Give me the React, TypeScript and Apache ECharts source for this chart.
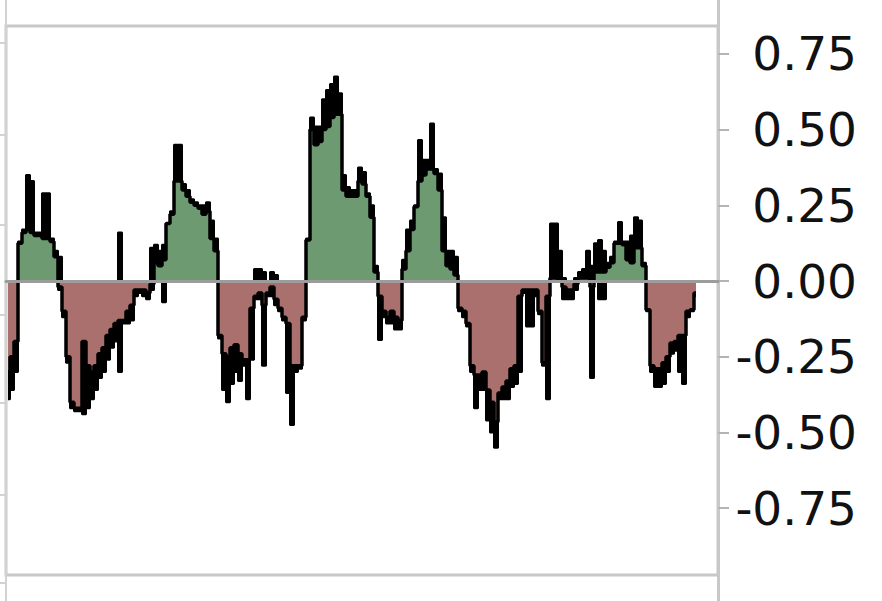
import React, { useEffect, useRef } from "react";
import * as echarts from "echarts";

// Period index labels (one per 4-px band in the original chart)
const periods: string[] = Array.from({ length: 178 }, (_, i) => `P${i + 1}`);

// Body value of the oscillator (coloured fill edge)
const core: number[] = [
  -0.30, -0.25, -0.20, 0.125, 0.16, 0.17, 0.16, 0.15, 0.15, 0.14,
  0.14, 0.13, 0.08, -0.02, -0.10, -0.25, -0.40, -0.42, -0.42, -0.20,
  -0.28, -0.30, -0.28, -0.24, -0.22, -0.18, -0.16, -0.14, -0.13, -0.13,
  -0.10, -0.08, -0.03, -0.03, -0.03, -0.04, -0.01, 0.06, 0.05, 0.07,
  0.19, 0.22, 0.33, 0.33, 0.30, 0.28, 0.26, 0.25, 0.24, 0.22,
  0.23, 0.14, 0.10, -0.18, -0.24, -0.25, -0.22, -0.21, -0.24, -0.26,
  -0.26, -0.09, -0.05, -0.04, -0.08, -0.04, -0.02, -0.06, -0.09, -0.12,
  -0.14, -0.28, -0.28, -0.28, -0.12, 0.135, 0.50, 0.45, 0.46, 0.50,
  0.51, 0.54, 0.55, 0.55, 0.30, 0.28, 0.28, 0.28, 0.33, 0.32,
  0.28, 0.21, 0.03, -0.05, -0.10, -0.12, -0.10, -0.12, -0.13, 0.04,
  0.10, 0.17, 0.245, 0.33, 0.35, 0.37, 0.37, 0.355, 0.30, 0.10,
  0.05, 0.04, 0.02, -0.09, -0.10, -0.14, -0.28, -0.31, -0.31, -0.30,
  -0.36, -0.40, -0.465, -0.37, -0.35, -0.33, -0.29, -0.28, -0.05, -0.03,
  -0.03, -0.03, -0.03, -0.10, -0.27, -0.05, 0.01, 0.01, 0.0, -0.02,
  -0.03, -0.03, -0.01, 0.01, 0.01, 0.01, -0.02, 0.03, 0.03, 0.03,
  0.045, 0.06, 0.125, 0.125, 0.12, 0.07, 0.06, 0.11, 0.11, 0.05,
  -0.095, -0.28, -0.29, -0.29, -0.27, -0.25, -0.205, -0.20, -0.18, -0.18,
  -0.10, -0.095, -0.04,
];

// Highest excursion within each period (black wick above zero)
const upper: number[] = [
  0, 0, 0, 0.13, 0.17, 0.35, 0.33, 0.16, 0.16, 0.29,
  0.29, 0.14, 0.10, 0.08, 0, 0, 0, 0, 0, 0,
  0, 0, 0, 0, 0, 0, 0, 0, 0.16, 0,
  0, 0, 0, 0, 0, 0, 0.11, 0.12, 0.10, 0.12,
  0.19, 0.23, 0.45, 0.45, 0.32, 0.30, 0.27, 0.26, 0.25, 0.25,
  0.26, 0.20, 0.14, 0, 0, 0, 0, 0, 0, 0,
  0, 0, 0.04, 0.04, 0.03, 0, 0.03, 0.02, 0, 0,
  0, 0, 0, 0, 0, 0.14, 0.54, 0.51, 0.51, 0.60,
  0.63, 0.65, 0.675, 0.62, 0.35, 0.31, 0.30, 0.30, 0.375, 0.36,
  0.29, 0.25, 0.05, 0, 0, 0, 0, 0, 0, 0.07,
  0.17, 0.20, 0.25, 0.465, 0.40, 0.40, 0.52, 0.37, 0.355, 0.21,
  0.10, 0.10, 0.08, 0, 0, 0, 0, 0, 0, 0,
  0, 0, 0, 0, 0, 0, 0, 0, 0, 0,
  0, 0, 0, 0, 0, 0, 0.19, 0.19, 0.10, 0.01,
  0, 0, 0.01, 0.03, 0.04, 0.10, 0.05, 0.125, 0.135, 0.10,
  0.06, 0.08, 0.13, 0.195, 0.13, 0.13, 0.15, 0.21, 0.20, 0.06,
  0, 0, 0, 0, 0, 0, 0, 0, 0, 0,
  0, 0, 0,
];

// Lowest excursion within each period (black wick below zero)
const lower: number[] = [
  -0.39, -0.36, -0.30, 0, 0, 0, 0, 0, 0, 0,
  0, 0, 0, -0.03, -0.12, -0.27, -0.42, -0.43, -0.43, -0.44,
  -0.42, -0.39, -0.36, -0.32, -0.30, -0.26, -0.22, -0.20, -0.30, -0.14,
  -0.14, -0.13, -0.05, -0.04, -0.05, -0.06, -0.03, 0, 0, -0.07,
  0, 0, 0, 0, 0, 0, 0, 0, 0, 0,
  0, 0, 0, -0.19, -0.36, -0.40, -0.34, -0.30, -0.33, -0.28,
  -0.39, -0.26, -0.06, -0.06, -0.28, -0.05, -0.05, -0.08, -0.10, -0.13,
  -0.37, -0.475, -0.30, -0.29, -0.13, 0, 0, 0, 0, 0,
  0, 0, 0, 0, 0, 0, 0, 0, 0, 0,
  0, 0, 0, -0.195, -0.12, -0.14, -0.14, -0.16, -0.16, 0,
  0, 0, 0, 0, 0, 0, 0, 0, 0, 0,
  0, 0, 0, -0.10, -0.12, -0.15, -0.30, -0.42, -0.36, -0.36,
  -0.46, -0.50, -0.55, -0.39, -0.39, -0.39, -0.35, -0.34, -0.30, -0.04,
  -0.15, -0.15, -0.05, -0.11, -0.28, -0.39, 0, 0, 0, -0.06,
  -0.06, -0.06, -0.03, 0, 0, 0, -0.32, 0, -0.06, -0.06,
  0, 0, 0, 0, 0, 0, 0, 0, 0, 0,
  -0.10, -0.30, -0.35, -0.35, -0.34, -0.30, -0.24, -0.23, -0.30, -0.34,
  -0.12, -0.10, -0.05,
];

const tickValues: number[] = [-0.75, -0.5, -0.25, 0, 0.25, 0.5, 0.75];
const leftTickValues: number[] = [18, 106, 198, 286, 376, 466, 558];

const GREEN = "#6e9a72";
const RED = "#a9706e";

export default function App() {
  const ref = useRef<HTMLDivElement>(null);

  useEffect(() => {
    if (!ref.current) return;
    const chart = echarts.init(ref.current, undefined, { renderer: "svg" });
    const positive = core.map((v) => (v > 0 ? v : 0));
    const negative = core.map((v) => (v < 0 ? v : 0));
    const base = {
      type: "line",
      step: "middle",
      symbol: "none",
      xAxisIndex: 0,
      yAxisIndex: 0,
      silent: true,
    };
    chart.setOption({
      animation: false,
      backgroundColor: "#ffffff",
      grid: [
        {
          left: 6,
          right: 164,
          top: 26,
          bottom: 26,
          show: true,
          borderColor: "#c8c8c8",
          borderWidth: 3,
          backgroundColor: "transparent",
        },
        { left: 6, right: 164, top: 0, bottom: 0 },
      ],
      xAxis: [
        {
          type: "category",
          gridIndex: 0,
          data: periods,
          boundaryGap: true,
          z: 10,
          axisLine: { show: true, onZero: true, lineStyle: { color: "#9c9c9c", width: 3 } },
          axisTick: { show: false },
          axisLabel: { show: false },
          splitLine: { show: false },
        },
        { type: "value", gridIndex: 1, show: false, min: 0, max: 1 },
      ],
      yAxis: [
        {
          type: "value",
          gridIndex: 0,
          position: "right",
          min: -0.9703,
          max: 0.8416,
          axisLine: { show: false, onZero: false },
          splitLine: { show: false },
          axisTick: {
            show: true,
            inside: false,
            length: 11,
            customValues: tickValues,
            lineStyle: { color: "#b4b4b4", width: 2 },
          },
          axisLabel: {
            show: true,
            customValues: tickValues,
            formatter: (v: number) => v.toFixed(2),
            fontFamily: "DejaVu Sans",
            fontSize: 47,
            color: "#111111",
            align: "right",
            margin: 139,
            padding: [0, 0, 9, 0],
          },
        },
        {
          type: "value",
          gridIndex: 1,
          position: "right",
          min: 0,
          max: 1,
          axisLine: { show: true, onZero: false, lineStyle: { color: "#c8c8c8", width: 3 } },
          axisTick: { show: false },
          axisLabel: { show: false },
          splitLine: { show: false },
        },
        {
          type: "value",
          gridIndex: 1,
          position: "left",
          min: 0,
          max: 601,
          axisLine: { show: true, onZero: false, lineStyle: { color: "#d2d2d2", width: 2 } },
          axisTick: {
            show: true,
            inside: false,
            length: 6,
            customValues: leftTickValues,
            lineStyle: { color: "#d2d2d2", width: 2 },
          },
          axisLabel: { show: false },
          splitLine: { show: false },
        },
      ],
      series: [
        {
          ...base,
          name: "upper",
          data: upper,
          z: 2,
          lineStyle: { color: "#000000", width: 2 },
          areaStyle: { color: "#000000", opacity: 1 },
        },
        {
          ...base,
          name: "lower",
          data: lower,
          z: 2,
          lineStyle: { color: "#000000", width: 2 },
          areaStyle: { color: "#000000", opacity: 1 },
        },
        {
          ...base,
          name: "positive",
          data: positive,
          z: 3,
          lineStyle: { width: 0, opacity: 0 },
          areaStyle: { color: GREEN, opacity: 1 },
        },
        {
          ...base,
          name: "negative",
          data: negative,
          z: 3,
          lineStyle: { width: 0, opacity: 0 },
          areaStyle: { color: RED, opacity: 1 },
        },
        {
          ...base,
          name: "core",
          data: core,
          z: 4,
          lineStyle: { color: "#000000", width: 3.5 },
        },
      ],
    });
    return () => chart.dispose();
  }, []);

  return (
    <div
      ref={ref}
      style={{ position: "fixed", left: 0, top: 0, width: 882, height: 601 }}
    />
  );
}
